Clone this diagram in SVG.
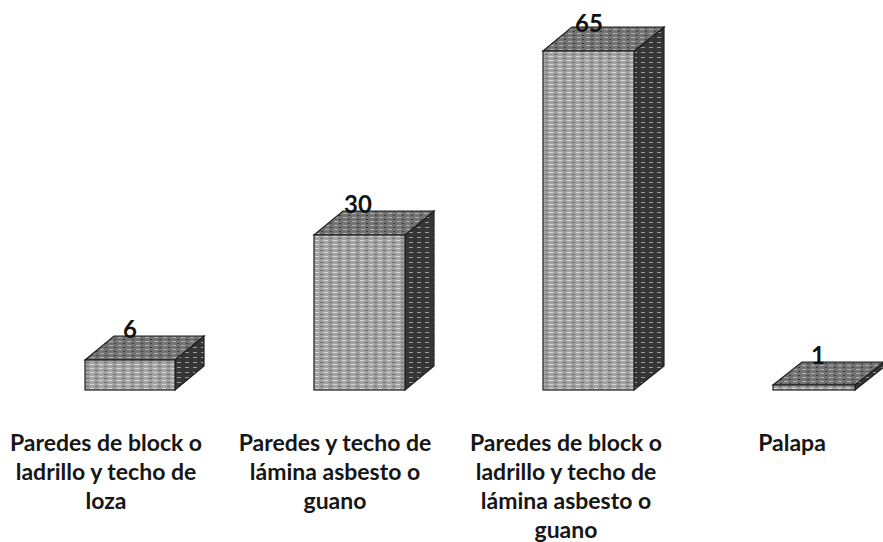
<svg xmlns="http://www.w3.org/2000/svg" width="883" height="542" viewBox="0 0 883 542">
  <style>
    .front { fill: url(#texFront); stroke: #1e1e1e; stroke-width: 1.2; }
    .top { fill: url(#texTop); stroke: #1e1e1e; stroke-width: 1.2; }
    .side { fill: url(#texSide); stroke: #1e1e1e; stroke-width: 1.2; }
    .val { font-family: Lato, "Liberation Sans", sans-serif; font-weight: bold; font-size: 24px; fill: #111; text-anchor: middle; }
    .cat { font-family: Lato, "Liberation Sans", sans-serif; font-weight: bold; font-size: 23px; fill: #161616; text-anchor: middle; }
  </style>
  <defs>
    <pattern id="texFront" width="9" height="4" patternUnits="userSpaceOnUse">
      <rect width="9" height="4" fill="#a2a2a2"/>
      <rect x="0" y="0" width="4" height="1" fill="#d8d8d8"/>
      <rect x="5" y="2" width="3" height="1" fill="#6a6a6a"/>
    </pattern>
    <pattern id="texTop" width="9" height="4" patternUnits="userSpaceOnUse">
      <rect width="9" height="4" fill="#727272"/>
      <rect x="1" y="1" width="4" height="1" fill="#b0b0b0"/>
      <rect x="6" y="3" width="2" height="1" fill="#3a3a3a"/>
    </pattern>
    <pattern id="texSide" width="8" height="5" patternUnits="userSpaceOnUse">
      <rect width="8" height="5" fill="#353535"/>
      <rect x="1" y="2" width="4" height="1" fill="#9a9a9a"/>
    </pattern>
  </defs>
  <rect width="883" height="542" fill="#ffffff"/>

  <g id="connectors"/>

  <g id="bar-1">
    <polygon class="side" points="175,360 204,336 204,366 175,390"/>
    <polygon class="top" points="85,360 114,336 204,336 175,360"/>
    <rect class="front" x="85" y="360" width="90" height="30"/>
    <text class="val" x="130" y="338">6</text>
  </g>

  <g id="bar-2">
    <polygon class="side" points="405,235 434,211 434,366 405,390"/>
    <polygon class="top" points="314,235 343,211 434,211 405,235"/>
    <rect class="front" x="314" y="235" width="91" height="155"/>
    <text class="val" x="358" y="213">30</text>
  </g>

  <g id="bar-3">
    <polygon class="side" points="634,51 664,27 664,366 634,390"/>
    <polygon class="top" points="543,51 572,27 664,27 634,51"/>
    <rect class="front" x="543" y="51" width="91" height="339"/>
    <text class="val" x="589" y="32">65</text>
  </g>

  <g id="bar-4">
    <polygon class="side" points="855,385 884,362 884,367 855,390"/>
    <polygon class="top" points="773,385 802,362 884,362 855,385"/>
    <rect class="front" x="773" y="385" width="82" height="5"/>
    <text class="val" x="818" y="364">1</text>
  </g>

  <g id="labels">
    <text class="cat" x="106" y="451">Paredes de block o</text>
    <text class="cat" x="106" y="480">ladrillo y techo de</text>
    <text class="cat" x="106" y="509">loza</text>

    <text class="cat" x="335" y="451">Paredes y techo de</text>
    <text class="cat" x="335" y="480">lámina asbesto o</text>
    <text class="cat" x="335" y="509">guano</text>

    <text class="cat" x="566" y="451">Paredes de block o</text>
    <text class="cat" x="566" y="480">ladrillo y techo de</text>
    <text class="cat" x="566" y="509">lámina asbesto o</text>
    <text class="cat" x="566" y="538">guano</text>

    <text class="cat" x="792" y="451">Palapa</text>
  </g>
</svg>
